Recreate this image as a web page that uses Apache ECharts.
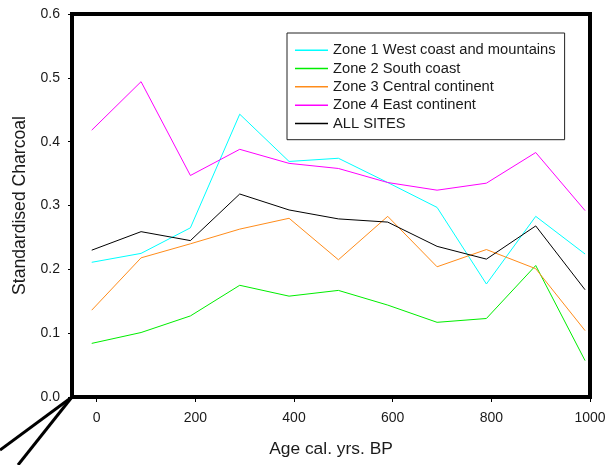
<!DOCTYPE html>
<html>
<head>
<meta charset="utf-8">
<script src="https://cdn.jsdelivr.net/npm/echarts@6/dist/echarts.min.js"></script>
<style>html,body{margin:0;padding:0;background:#fff}#c{width:611px;height:465px}</style>
</head>
<body>
<div id="c"></div>
<script>
var ages = [-10, 90, 190, 290, 390, 490, 590, 690, 790, 890, 990];
var seriesNames = ['Zone 1 West coast and mountains', 'Zone 2 South coast', 'Zone 3 Central continent', 'Zone 4 East continent', 'ALL SITES'];
var zone1 = [0.211, 0.225, 0.265, 0.443, 0.369, 0.374, 0.336, 0.297, 0.177, 0.283, 0.224];
var zone2 = [0.084, 0.101, 0.127, 0.175, 0.158, 0.167, 0.144, 0.117, 0.123, 0.206, 0.057];
var zone3 = [0.136, 0.218, 0.240, 0.263, 0.280, 0.215, 0.283, 0.204, 0.231, 0.201, 0.104];
var zone4 = [0.418, 0.494, 0.347, 0.388, 0.366, 0.358, 0.336, 0.324, 0.335, 0.383, 0.292];
var allSites = [0.230, 0.259, 0.245, 0.318, 0.293, 0.279, 0.274, 0.236, 0.216, 0.268, 0.168];
var xTicks = [0, 200, 400, 600, 800, 1000];
var colors = ['#00ffff', '#00ee00', '#ff8c1a', '#ff00ff', '#000000'];

var values = [zone1, zone2, zone3, zone4, allSites];
function pairs(v) { return ages.map(function (a, i) { return [a, v[i]]; }); }

var font = 'Liberation Sans, Arial, sans-serif';
var chart = echarts.init(document.getElementById('c'), null, { renderer: 'canvas' });
chart.setOption({
  animation: false,
  backgroundColor: '#fff',
  grid: { left: 72, right: 21, top: 14, bottom: 68, show: true, borderColor: '#000', borderWidth: 4, backgroundColor: 'transparent' },
  legend: {
    orient: 'vertical', left: 287, top: 33,
    backgroundColor: '#fff', borderColor: '#222', borderWidth: 1,
    padding: [9, 9, 8, 8], itemWidth: 33, itemHeight: 1.5, itemGap: 1.8,
    icon: 'rect',
    textStyle: { fontFamily: font, fontSize: 14.7, color: '#1a1a1a', lineHeight: 16.5 },
    data: seriesNames
  },
  xAxis: {
    type: 'value', min: -50, max: 1000,
    name: 'Age cal. yrs. BP', nameLocation: 'middle', nameGap: 44,
    nameTextStyle: { fontFamily: font, fontSize: 17.4, color: '#1a1a1a' },
    axisLine: { show: true, onZero: false, lineStyle: { color: '#000', width: 4 } },
    axisTick: { show: true, customValues: xTicks, length: 5, lineStyle: { color: '#000', width: 1 } },
    axisLabel: { customValues: xTicks, margin: 14, fontFamily: font, fontSize: 14, color: '#1a1a1a', formatter: function (v) { return String(v); } },
    splitLine: { show: false }
  },
  yAxis: {
    type: 'value', min: 0, max: 0.6, interval: 0.1,
    name: 'Standardised Charcoal', nameLocation: 'middle', nameGap: 40,
    nameTextStyle: { fontFamily: font, fontSize: 17.6, color: '#1a1a1a' },
    axisLine: { show: true, onZero: false, lineStyle: { color: '#000', width: 4 } },
    axisTick: { show: true, length: 4, lineStyle: { color: '#000', width: 1 } },
    axisLabel: { margin: 12, fontFamily: font, fontSize: 14, color: '#1a1a1a', formatter: function (v) { return v.toFixed(1); } },
    splitLine: { show: false }
  },
  graphic: [
    { type: 'line', shape: { x1: 72, y1: 397, x2: 0, y2: 450 }, style: { stroke: '#000', lineWidth: 3 } },
    { type: 'line', shape: { x1: 72, y1: 397, x2: 18, y2: 465 }, style: { stroke: '#000', lineWidth: 3 } }
  ],
  series: seriesNames.map(function (n, i) {
    return {
      name: n, type: 'line', data: pairs(values[i]), symbol: 'none',
      color: colors[i], lineStyle: { color: colors[i], width: 1 }, z: 2
    };
  })
});
</script>
</body>
</html>
